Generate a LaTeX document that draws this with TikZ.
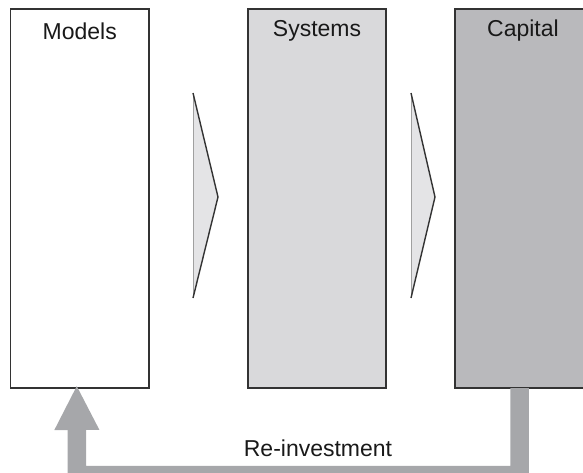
\documentclass[tikz,border=0pt]{standalone}
\usepackage{fontspec}
\setmainfont{Liberation Sans}
\usetikzlibrary{arrows.meta}
\definecolor{boxline}{HTML}{333333}
\definecolor{sysfill}{HTML}{D9D9DB}
\definecolor{capfill}{HTML}{B9B9BC}
\definecolor{arrowgray}{HTML}{A6A7AA}
\definecolor{trifill}{HTML}{E4E4E6}
\definecolor{triedge}{HTML}{A0A0A0}
\tikzset{
  stage/.style={draw=boxline, line width=1.6pt, minimum height=379pt, inner sep=0pt, outer sep=0pt, anchor=north west},
  title/.style={font=\fontsize{23}{26}\selectfont, text=black!90, anchor=center},
  feedback/.style={draw=arrowgray, line width=18.5pt, line join=miter, -{Triangle[length=45pt,width=41.5pt]}},
}
\begin{document}
\begin{tikzpicture}[x=1pt,y=-1pt]
\useasboundingbox (0,0) rectangle (583,472);
\begin{scope}
\clip (0,0) rectangle (583,472);
\node[stage, fill=white, minimum width=138.5pt] (models) at (10.5,9) {};
\node[stage, fill=sysfill, minimum width=138pt] (systems) at (248,9) {};
\node[stage, fill=capfill, minimum width=136pt] (capital) at (455,9) {};
\node[title] (tm) at ([yshift=-22pt]models.north) {Models};
\node[title] (ts) at ([yshift=-22pt]systems.north) {Systems};
\node[title] (tc) at ([yshift=-22pt]capital.north) {Capital};
% process chevrons
\fill[trifill] (193,93) -- (218,197) -- (193,298) -- cycle;
\draw[triedge, line width=1pt] (193,93) -- (193,298);
\draw[boxline, line width=1.4pt, line join=miter] (193,93) -- (218,197) -- (193,298);
\fill[trifill] (411,93) -- (435,197) -- (411,298) -- cycle;
\draw[triedge, line width=1pt] (411,93) -- (411,298);
\draw[boxline, line width=1.4pt, line join=miter] (411,93) -- (435,197) -- (411,298);
% re-investment loop
\coordinate (loopR) at ([xshift=-3.5pt]capital.south |- 0,475);
\coordinate (loopL) at (77,475);
\draw[feedback] ([xshift=-3.5pt]capital.south) -- (loopR) -- (loopL) -- ([xshift=-3pt,yshift=3pt]models.south);
\node[title] (reinv) at (318,448) {Re-investment};
\end{scope}
\end{tikzpicture}
\end{document}
